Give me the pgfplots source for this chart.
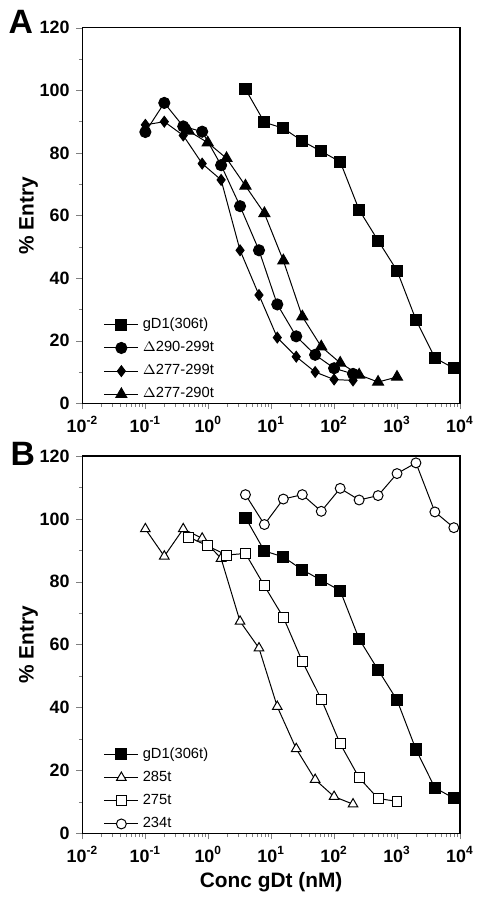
\documentclass[border=0pt]{standalone}
\usepackage{fontspec}
\setmainfont{Liberation Sans}
\usepackage{pgfplots}
\pgfplotsset{compat=1.18}

\begin{document}
\begin{tikzpicture}
% panel A
\begin{axis}[name=A, scale only axis, width=190pt, height=189pt, at={(0,0)},
    xmode=log, xmin=0.01, xmax=10000,
    ymin=0, ymax=120,
    xtick={0.01,0.1,1,10,100,1000,10000},
    xticklabels={10\textsuperscript{-2},10\textsuperscript{-1},10\textsuperscript{0},10\textsuperscript{1},10\textsuperscript{2},10\textsuperscript{3},10\textsuperscript{4}},
    ytick={0,20,...,120}, minor y tick num=1,
    tick align=outside, tick pos=left,
    major tick length=3pt, minor tick length=1.8pt,
    ticklabel style={font=\bfseries\fontsize{9}{9}\selectfont},
    /pgf/number format/assume math mode=true,
    ylabel={\% Entry},
    ylabel style={font=\bfseries\fontsize{10.5}{10.5}\selectfont, yshift=-6pt},
    axis line style={line width=0.6pt},
    legend style={draw=none, fill=none, font=\fontsize{7.4}{7.4}\selectfont,
      at={(0.04,0.25)}, anchor=north west, row sep=1pt},
    legend cell align=left]
\addplot[black, line width=0.5pt, mark=square*, mark size=2.8pt] coordinates {
  (3.9,100.4) (7.8,89.8) (15.6,87.9) (31.25,83.8) (62.5,80.5) (125,77.2)
  (250,61.8) (500,52) (1000,42.4) (2000,26.7) (4000,14.5) (8000,11.2)};
\addlegendentry{gD1(306t)}
\addplot[black, line width=0.5pt, mark=*, mark size=2.8pt] coordinates {
  (0.1,86.7) (0.2,96) (0.4,88.5) (0.8,86.8) (1.6,76.1) (3.2,63)
  (6.4,48.9) (12.5,31.6) (25,21.4) (50,15.5) (100,11.2) (200,9.4)};
\addlegendentry{$\Delta$290-299t}
\addplot[black, line width=0.5pt, mark=diamond*, mark size=2.7pt] coordinates {
  (0.1,89) (0.2,90) (0.4,85.6) (0.8,76.6) (1.6,71.4) (3.2,48.9)
  (6.4,34.6) (12.5,21) (25,14.9) (50,10) (100,7.6) (200,7.3)};
\addlegendentry{$\Delta$277-299t}
\addplot[black, line width=0.5pt, mark=triangle*, mark size=3.2pt] coordinates {
  (0.49,87) (0.98,83.3) (1.95,78.3) (3.9,69.5) (7.8,60.7) (15.6,45.6)
  (31.25,27.7) (62.5,18.1) (125,12.9) (250,9.1) (500,6.8) (1000,8.4)};
\addlegendentry{$\Delta$277-290t}
\end{axis}
\node[font=\bfseries\fontsize{17}{17}\selectfont] at ([xshift=-31pt,yshift=3pt]A.north west) {A};

% panel B
\begin{axis}[name=B, scale only axis, width=190pt, height=190pt, at={(0,-216.5pt)},
    xmode=log, xmin=0.01, xmax=10000,
    ymin=0, ymax=120,
    xtick={0.01,0.1,1,10,100,1000,10000},
    xticklabels={10\textsuperscript{-2},10\textsuperscript{-1},10\textsuperscript{0},10\textsuperscript{1},10\textsuperscript{2},10\textsuperscript{3},10\textsuperscript{4}},
    ytick={0,20,...,120}, minor y tick num=1,
    tick align=outside, tick pos=left,
    major tick length=3pt, minor tick length=1.8pt,
    ticklabel style={font=\bfseries\fontsize{9}{9}\selectfont},
    /pgf/number format/assume math mode=true,
    ylabel={\% Entry},
    ylabel style={font=\bfseries\fontsize{10.5}{10.5}\selectfont, yshift=-6pt},
    xlabel={Conc gDt (nM)},
    xlabel style={font=\bfseries\fontsize{10.5}{10.5}\selectfont, yshift=2pt},
    axis line style={line width=0.6pt},
    legend style={draw=none, fill=none, font=\fontsize{7.4}{7.4}\selectfont,
      at={(0.04,0.25)}, anchor=north west, row sep=1pt},
    legend cell align=left]
\addplot[black, line width=0.5pt, mark=square*, mark size=2.8pt] coordinates {
  (3.9,100.4) (7.8,89.8) (15.6,87.9) (31.25,83.8) (62.5,80.5) (125,77.2)
  (250,61.8) (500,52) (1000,42.4) (2000,26.7) (4000,14.5) (8000,11.2)};
\addlegendentry{gD1(306t)}
\addplot[black, line width=0.5pt, mark=triangle*, mark size=2.8pt, mark options={fill=white}] coordinates {
  (0.1,96.8) (0.2,88.1) (0.4,96.8) (0.8,93.8) (1.6,87.4) (3.2,67.4)
  (6.4,58.9) (12.5,40.3) (25,26.9) (50,17.1) (100,11.7) (200,9.3)};
\addlegendentry{285t}
\addplot[black, line width=0.5pt, mark=square*, mark size=2.5pt, mark options={fill=white}] coordinates {
  (0.49,94.2) (0.98,91.4) (1.95,88.5) (3.9,89) (7.8,78.7) (15.6,68.7)
  (31.25,54.7) (62.5,42.7) (125,28.5) (250,17.7) (500,11.1) (1000,10.2)};
\addlegendentry{275t}
\addplot[black, line width=0.5pt, mark=*, mark size=2.5pt, mark options={fill=white}] coordinates {
  (3.9,107.7) (7.8,98.2) (15.6,106.3) (31.25,107.7) (62.5,102.4) (125,109.7)
  (250,106) (500,107.4) (1000,114.4) (2000,117.8) (4000,102.2) (8000,97.2)};
\addlegendentry{234t}
\end{axis}
\node[font=\bfseries\fontsize{17}{17}\selectfont] at ([xshift=-30pt,yshift=1pt]B.north west) {B};

% page frame close to the reference, with the x label kept whole
\pgfresetboundingbox
\useasboundingbox ([xshift=-41.5pt,yshift=14pt]A.north west) rectangle ([xshift=10pt,yshift=-32.5pt]B.south east);
\end{tikzpicture}
\end{document}
